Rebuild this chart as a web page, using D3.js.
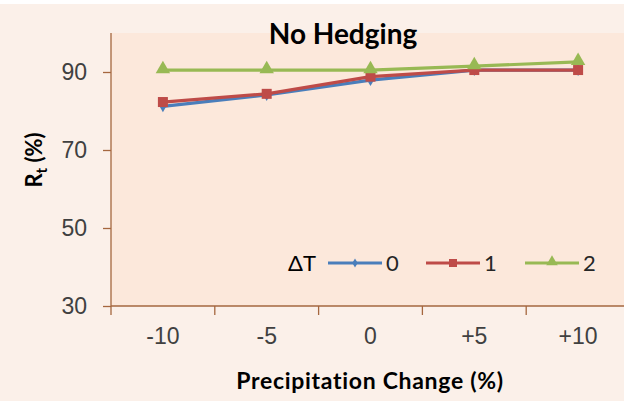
<!DOCTYPE html>
<html>
<head>
<meta charset="utf-8">
<script src="https://cdn.jsdelivr.net/npm/d3@7"></script>
<style>
  html, body { margin: 0; padding: 0; background: #fff; }
  svg { display: block; font-family: Lato, "Open Sans", sans-serif; }
</style>
</head>
<body>
<div id="chart"></div>
<script>
const categories = ["-10", "-5", "0", "+5", "+10"];
const seriesNames = ["0", "1", "2"];
const dT0 = [81.2, 84.1, 87.9, 90.5, 90.5];
const dT1 = [82.3, 84.4, 88.8, 90.5, 90.5];
const dT2 = [90.5, 90.5, 90.5, 91.5, 92.6];
const yTicks = [30, 50, 70, 90];

const W = 624, H = 401;
const margin = { top: 33, right: -6, bottom: 95, left: 111 };

const svg = d3.select("#chart").append("svg").attr("width", W).attr("height", H);

// backgrounds
svg.append("rect").attr("width", W).attr("height", H).attr("fill", "#fff");
svg.append("rect").attr("y", 4).attr("width", W).attr("height", H - 4).attr("fill", "#fbf0e9");

const x = d3.scaleBand().domain(categories).range([margin.left, W - margin.right]);
const y = d3.scaleLinear().domain([30, 100]).range([H - margin.bottom, margin.top]);

svg.append("rect")
  .attr("x", margin.left).attr("y", y(100))
  .attr("width", W - margin.left).attr("height", y(30) - y(100))
  .attr("fill", "#fce8db");

const axisColor = "#a5673f";

// y axis
const yAxis = svg.append("g").attr("transform", `translate(${margin.left},0)`)
  .call(d3.axisLeft(y).tickValues(yTicks).tickSize(8).tickPadding(16));
yAxis.select(".domain").attr("stroke", axisColor).attr("stroke-width", 1.3)
  .attr("d", `M0,${y(100)}V${y(30)}`);
yAxis.selectAll(".tick line").attr("stroke", axisColor).attr("stroke-width", 1.3);
yAxis.selectAll(".tick text").attr("fill", "#404040").attr("font-size", 23);

// x axis
const xAxis = svg.append("g").attr("transform", `translate(0,${y(30)})`)
  .call(d3.axisBottom(x).tickSize(0).tickPadding(22));
xAxis.select(".domain").attr("stroke", axisColor).attr("stroke-width", 1.3)
  .attr("d", `M${margin.left},0H${W}`);
xAxis.selectAll(".tick text").attr("fill", "#404040").attr("font-size", 23);
// ticks between categories
const bounds = categories.map(c => x(c)).concat([x(categories[categories.length - 1]) + x.bandwidth()]);
svg.append("g").selectAll("line").data(bounds).join("line")
  .attr("x1", d => d).attr("x2", d => d)
  .attr("y1", y(30)).attr("y2", y(30) + 9)
  .attr("stroke", axisColor).attr("stroke-width", 1.3);

// titles
svg.append("text").attr("x", 343).attr("y", 44).attr("text-anchor", "middle")
  .attr("font-size", 28).attr("font-weight", 700).attr("fill", "#000").text("No Hedging");

svg.append("text").attr("x", 370).attr("y", 389).attr("text-anchor", "middle")
  .attr("font-size", 23).attr("font-weight", 700).attr("letter-spacing", 0.7)
  .attr("fill", "#000").text("Precipitation Change (%)");

const yl = svg.append("text").attr("transform", "translate(42,160) rotate(-90)")
  .attr("text-anchor", "middle").attr("font-size", 22).attr("font-weight", 700).attr("fill", "#000");
yl.append("tspan").text("R");
yl.append("tspan").attr("font-size", 15).attr("dy", 5).text("t");
yl.append("tspan").attr("dy", -5).text(" (%)");

// series
const series = [
  { name: seriesNames[0], values: dT0, color: "#4a7ebb", marker: "diamond" },
  { name: seriesNames[1], values: dT1, color: "#be4b48", marker: "square" },
  { name: seriesNames[2], values: dT2, color: "#98b954", marker: "triangle" }
];

const cx = c => x(c) + x.bandwidth() / 2;
const line = d3.line().x((d, i) => cx(categories[i])).y(d => y(d));

function marker(g, type, color, px, py, s) {
  if (type === "square") {
    g.append("rect").attr("x", px - s / 2).attr("y", py - s / 2)
      .attr("width", s).attr("height", s).attr("fill", color);
  } else if (type === "triangle") {
    g.append("path").attr("d", d3.symbol(d3.symbolTriangle, s * s * 0.9)())
      .attr("transform", `translate(${px},${py - 1})`).attr("fill", color);
  } else {
    g.append("path").attr("d", d3.symbol(d3.symbolDiamond, s * s * 0.5)())
      .attr("transform", `translate(${px},${py})`).attr("fill", color);
  }
}

const plot = svg.append("g");
series.forEach(s => {
  plot.append("path").datum(s.values).attr("d", line)
    .attr("fill", "none").attr("stroke", s.color).attr("stroke-width", 3.2)
    .attr("stroke-linejoin", "round");
  s.values.forEach((v, i) => marker(plot, s.marker, s.color, cx(categories[i]), y(v), s.marker === "diamond" ? 9 : 10));
});

// legend
const leg = svg.append("g");
leg.append("text").attr("x", 288).attr("y", 271).attr("font-size", 22).attr("fill", "#000").text("ΔT");
const legX = [328, 426, 525];
series.forEach((s, i) => {
  const lx = legX[i], ly = 263;
  leg.append("line").attr("x1", lx).attr("x2", lx + 54).attr("y1", ly).attr("y2", ly)
    .attr("stroke", s.color).attr("stroke-width", 3);
  marker(leg, s.marker, s.color, lx + 27, ly, s.marker === "diamond" ? 7 : 8);
  leg.append("text").attr("x", lx + 58).attr("y", 271).attr("font-size", 22)
    .attr("fill", "#262626").text(s.name);
});
</script>
</body>
</html>
